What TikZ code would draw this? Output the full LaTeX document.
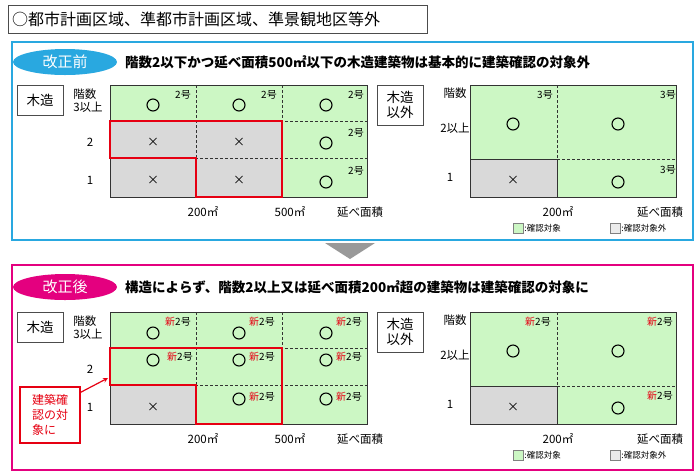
\documentclass[tikz,border=0pt]{standalone}
\usepackage{fontspec}
\setmainfont{Noto Sans CJK JP}
\usetikzlibrary{shapes.geometric}
\definecolor{panelblue}{HTML}{29A8E0}
\definecolor{panelpink}{HTML}{E4007F}
\definecolor{cellgreen}{HTML}{CCF7C4}
\definecolor{cellgray}{HTML}{D9D9D9}
\definecolor{markred}{HTML}{E60012}
\tikzset{
  cellok/.style={fill=cellgreen},
  cellng/.style={fill=cellgray,draw=black!80},
  okmark/.style={circle,draw,line width=1.1pt,minimum size=12pt,inner sep=0pt},
  ngmark/.style={font=\fontsize{12}{12}\selectfont},
  gou/.style={font=\fontsize{10}{10}\selectfont,inner sep=0pt},
  lab/.style={font=\fontsize{11.5}{13}\selectfont,inner sep=0pt},
  kindbox/.style={draw=black!70,fill=white,font=\fontsize{13.5}{15}\selectfont,align=center,inner sep=3pt},
  tag/.style={ellipse,minimum width=104pt,minimum height=26pt,inner sep=0pt,text=white,font=\fontsize{15}{15}\selectfont},
  headline/.style={anchor=west,font=\bfseries\fontsize{13.5}{15}\selectfont,inner sep=0pt},
  legendbox/.style={draw=black!50,minimum size=10pt,inner sep=0pt},
  legendtext/.style={anchor=west,font=\fontsize{8.5}{9}\selectfont,inner sep=1pt}
}
\newcommand{\shin}{\textcolor{markred}{新}}
\begin{document}
\begin{tikzpicture}[x=1pt,y=-1pt]
\useasboundingbox[fill=white] (0,0) rectangle (700,475);

% heading
\node[draw=black!70,anchor=west,minimum height=28pt,font=\fontsize{16}{16}\selectfont,inner sep=4pt,text width=411pt] (head) at (8,19) {○都市計画区域、準都市計画区域、準景観地区等外};

% panels
\draw[panelblue,line width=1.5pt] (12,42) rectangle (693,240);
\draw[panelpink,line width=1.5pt] (12,265) rectangle (693,470);
\node[tag,fill=panelblue] (before) at (65,62) {改正前};
\node[tag,fill=panelpink] (after) at (65,287) {改正後};
\node[headline] (t1) at (125,62) {階数2以下かつ延べ面積500㎡以下の木造建築物は基本的に建築確認の対象外};
\node[headline] (t2) at (125,287) {構造によらず、階数2以上又は延べ面積200㎡超の建築物は建築確認の対象に};

% arrow between panels
\fill[black!40] (325,243) -- (375,243) -- (350,259) -- cycle;

\foreach \Y/\P in {0/a,227/b}{
  \begin{scope}[yshift=-\Y]
  % wooden: grid
  \fill[cellgreen] (110,85) rectangle (367,197);
  \ifnum\Y=0
    \fill[cellgray] (110,121) rectangle (282,158);
    \fill[cellgray] (110,158) rectangle (282,197);
  \else
    \fill[cellgray] (110,158) rectangle (196,197);
  \fi
  \draw[black!80,densely dashed] (196,85) -- (196,197) (282,85) -- (282,197)
       (110,121) -- (367,121) (110,158) -- (367,158);
  \draw[black!80] (110,85) rectangle (367,197);
  \draw[markred,line width=2pt] (110,121) -- (282,121) -- (282,197) -- (196,197) -- (196,158) -- (110,158) -- cycle;
  \node[kindbox,minimum width=46pt,minimum height=30pt] (wood\P) at (40,100) {木造};
  \node[lab,align=left] (floors\P) at (88,101) {階数\\3以上};
  \node[lab] (two\P) at (90,142) {2};
  \node[lab] (one\P) at (90,180) {1};
  \node[lab] (m200\P) at (203,212) {200㎡};
  \node[lab] (m500\P) at (290,212) {500㎡};
  \node[lab] (area\P) at (360,212) {延べ面積};
  % other than wooden: grid
  \fill[cellgreen] (470,85) rectangle (676,197);
  \draw[black!80,densely dashed] (557,85) -- (557,159) (557,159) -- (676,159);
  \draw[cellng] (470,159) rectangle (557,197);
  \draw[black!80] (470,85) rectangle (676,197);
  \node[kindbox,minimum width=46pt,minimum height=40pt] (other\P) at (400,105) {木造\\以外};
  \node[lab] (ofloors\P) at (455,93) {階数};
  \node[lab] (otwo\P) at (455,128) {2以上};
  \node[lab] (oone\P) at (450,177) {1};
  \node[lab] (o200\P) at (558,212) {200㎡};
  \node[lab] (oarea\P) at (660,212) {延べ面積};
  % legend
  \node[legendbox,fill=cellgreen] (lok\P) at (518,228) {};
  \node[legendtext] at (lok\P.east) {:確認対象};
  \node[legendbox,fill=black!8] (lng\P) at (615,228) {};
  \node[legendtext] at (lng\P.east) {:確認対象外};
  \end{scope}
}

% marks, before
\foreach \x/\y in {153/105,239/105,326/105,326/143,326/182}
  \node[okmark] at (\x,\y) {};
\foreach \x/\y in {153/142,239/142,153/180,239/180}
  \node[ngmark] at (\x,\y) {×};
\foreach \x/\y in {183/95,269/95,356/95,356/133,356/171}
  \node[gou] at (\x,\y) {2号};
\foreach \x/\y in {513/124,618/124,618/182}
  \node[okmark] at (\x,\y) {};
\node[ngmark] at (513,180) {×};
\foreach \x/\y in {545/95,668/95,668/170}
  \node[gou] at (\x,\y) {3号};

% marks, after
\foreach \x/\y in {153/333,239/333,326/333,153/360,239/360,326/360,239/399,326/399}
  \node[okmark] at (\x,\y) {};
\node[ngmark] at (153,407) {×};
\foreach \x/\y in {178/322,262/322,349/322,180/357,262/357,349/357,262/397,349/397}
  \node[gou] at (\x,\y) {\shin 2号};
\foreach \x/\y in {513/351,618/351,618/408}
  \node[okmark] at (\x,\y) {};
\node[ngmark] at (513,407) {×};
\foreach \x/\y in {538/322,660/322,660/396}
  \node[gou] at (\x,\y) {\shin 2号};

% callout
\node[draw=markred,line width=1.5pt,fill=white,text=markred,align=left,font=\fontsize{12}{15}\selectfont,inner sep=3pt,minimum width=60pt,minimum height=56pt] (callout) at (50,415) {建築確\\認の対\\象に};
\draw[markred,line width=1.2pt,-stealth] ([yshift=-6pt]callout.north east) -- (108,378);
\end{tikzpicture}
\end{document}
